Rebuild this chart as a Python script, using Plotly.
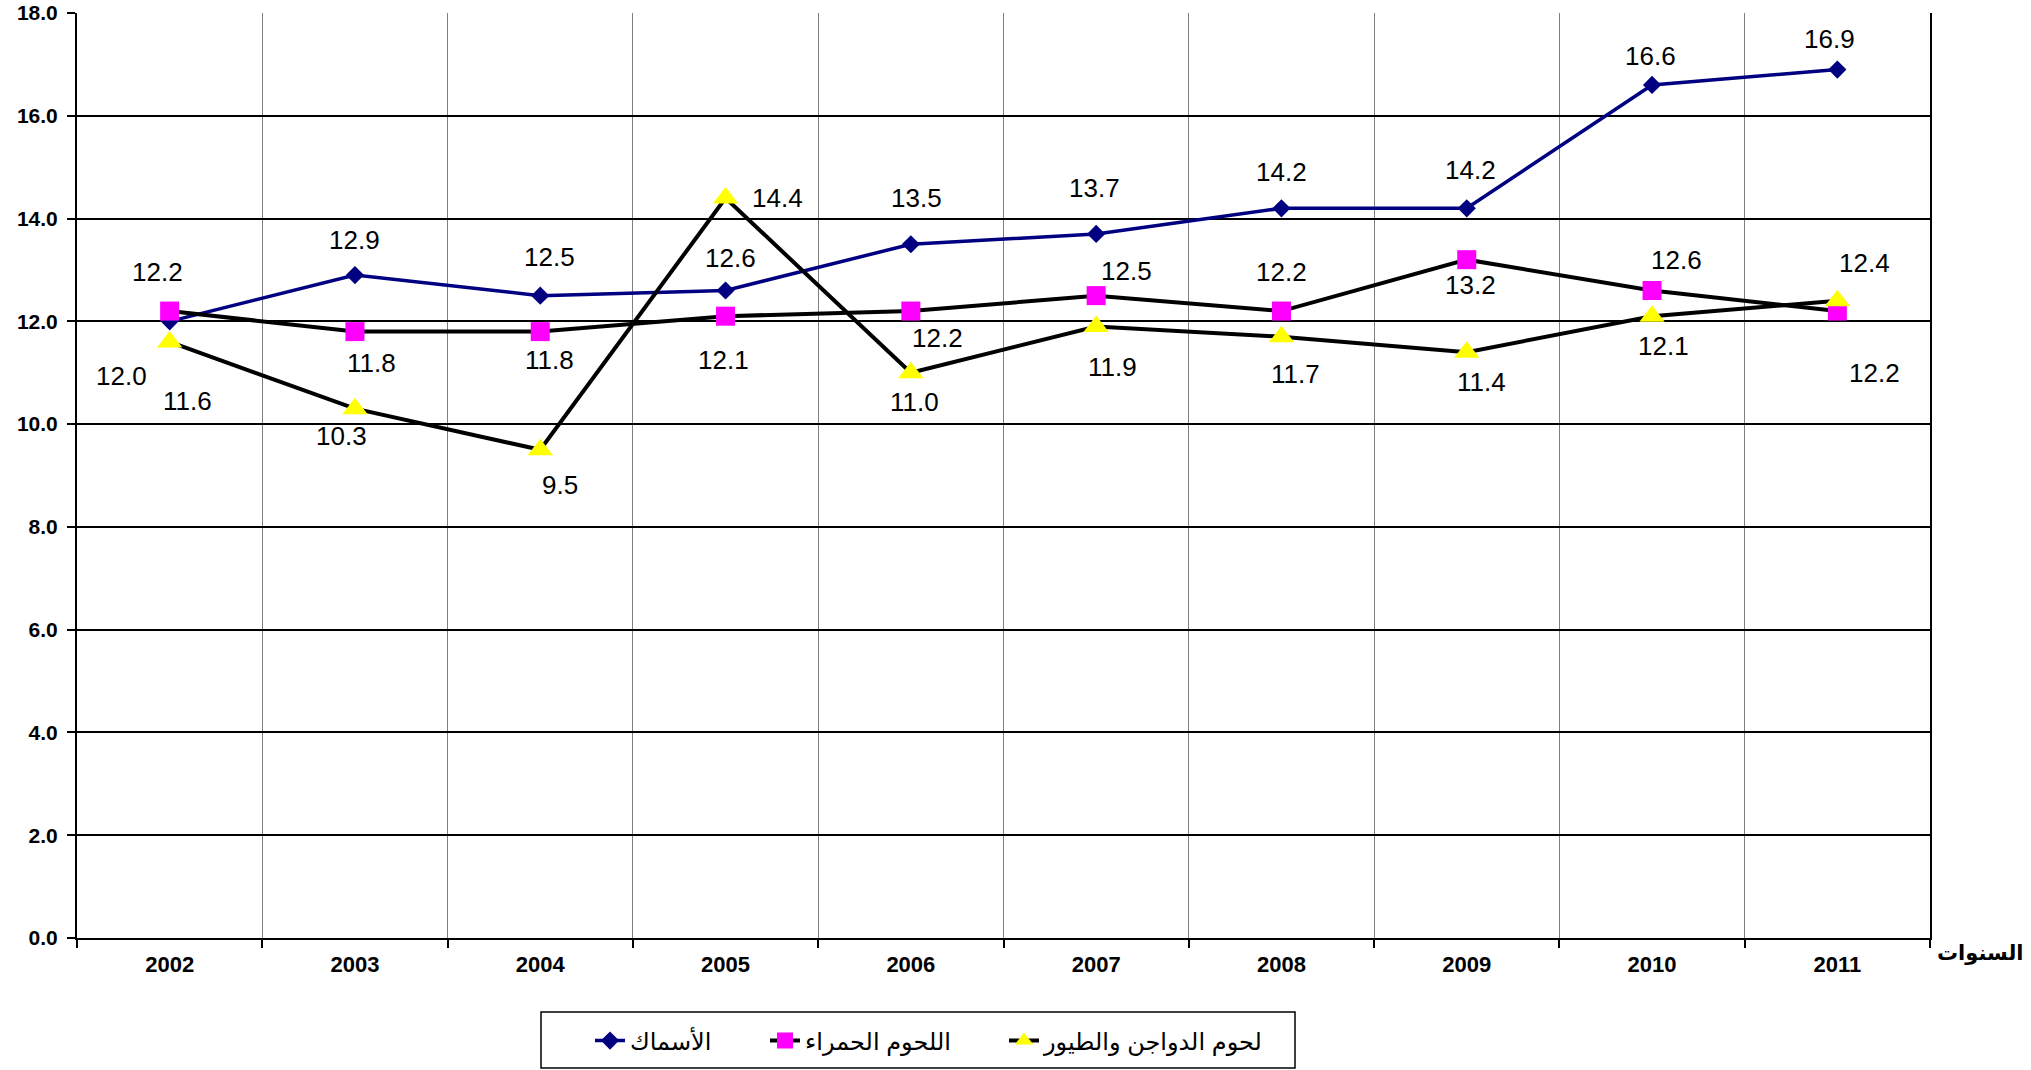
import plotly.graph_objects as go

# ---- data ----
years = ["2002", "2003", "2004", "2005", "2006", "2007", "2008", "2009", "2010", "2011"]
fish = [12.0, 12.9, 12.5, 12.6, 13.5, 13.7, 14.2, 14.2, 16.6, 16.9]
red_meat = [12.2, 11.8, 11.8, 12.1, 12.2, 12.5, 12.2, 13.2, 12.6, 12.2]
poultry = [11.6, 10.3, 9.5, 14.4, 11.0, 11.9, 11.7, 11.4, 12.1, 12.4]
names = ["الأسماك", "اللحوم الحمراء", "لحوم الدواجن والطيور"]
x_title = "السنوات"

# ---- label offsets (pixels: dx right, dy down) ----
fish_off = [(-48, 55), (0, -35), (9, -39), (5, -33), (6, -46), (-2, -46), (0, -36), (4, -38), (-2, -29), (-8, -31)]
red_off = [(-12, -39), (17, 31), (9, 28), (-2, 44), (27, 27), (30, -25), (0, -39), (4, 25), (24, -31), (37, 62)]
poul_off = [(18, 59), (-13, 27), (20, 35), (52, 0), (4, 29), (16, 41), (14, 37), (15, 30), (11, 30), (27, -38)]

FONT = "Liberation Sans, Arial, DejaVu Sans, sans-serif"
W, H = 2031, 1070
# plot area in page pixels: x 77..1930, y 13..938
ML = 77
MT = 13
MR = W - 1930
MB = H - 938
xs = list(range(len(years)))

fig = go.Figure()
fig.add_trace(go.Scatter(
    x=xs, y=fish, name=names[0], mode="lines+markers", legend="legend",
    line=dict(color="#000080", width=3.5),
    marker=dict(symbol="diamond", size=14, color="#000080"),
))
fig.add_trace(go.Scatter(
    x=xs, y=red_meat, name=names[1], mode="lines+markers", legend="legend2",
    line=dict(color="black", width=4),
    marker=dict(symbol="square", size=19, color="#FF00FF"),
))
fig.add_trace(go.Scatter(
    x=xs, y=poultry, name=names[2], mode="lines+markers", legend="legend3",
    line=dict(color="black", width=4),
    marker=dict(symbol="triangle-up", size=22, color="#FFFF00"),
))

annotations = []
for series, offs in ((fish, fish_off), (red_meat, red_off), (poultry, poul_off)):
    for xi, v, (dx, dy) in zip(xs, series, offs):
        annotations.append(dict(
            x=xi, y=v, text=f"{v:.1f}", showarrow=False,
            xshift=dx, yshift=-dy,
            font=dict(family=FONT, size=26, color="black"),
        ))

pw = W - ML - MR
ph = H - MT - MB


def px_x(p):  # page pixel -> paper x
    return (p - ML) / pw


def px_y(p):  # page pixel -> paper y
    return (H - MB - p) / ph


annotations.append(dict(
    xref="paper", yref="paper", x=px_x(1980), y=px_y(953), text=f"<b>{x_title}</b>",
    showarrow=False, xanchor="center", yanchor="middle",
    font=dict(family=FONT, size=21, color="black"),
))

legend_font = dict(family=FONT, size=24, color="black")
leg_y = (H - 1041) / H


def leg(xpix):
    return dict(orientation="h", xref="container", yref="container",
                x=xpix / W, xanchor="left", y=leg_y, yanchor="middle",
                bgcolor="rgba(0,0,0,0)", borderwidth=0, font=legend_font)


fig.update_layout(
    width=W, height=H,
    margin=dict(l=ML, r=MR, t=MT, b=MB, autoexpand=False),
    plot_bgcolor="white", paper_bgcolor="white",
    font=dict(family=FONT, color="black"),
    annotations=annotations,
    showlegend=True,
    legend=leg(590), legend2=leg(765), legend3=leg(1004),
    shapes=[dict(type="rect", xref="paper", yref="paper",
                 x0=px_x(541), x1=px_x(1295), y0=px_y(1012), y1=px_y(1068),
                 line=dict(color="black", width=1.5), fillcolor="rgba(0,0,0,0)")],
    xaxis=dict(
        range=[-0.5, 9.5], automargin=False,
        tickmode="array", tickvals=xs, ticktext=[f"<b>{y}</b>" for y in years],
        tickfont=dict(family=FONT, size=22, color="black"),
        ticklabelstandoff=6, ticklabeloverflow="allow",
        showgrid=False, zeroline=False,
        showline=True, linecolor="black", linewidth=2,
        ticks="",
        minor=dict(tickmode="array", tickvals=[i - 0.5 for i in range(len(years) + 1)],
                   showgrid=True, gridcolor="#808080", gridwidth=1,
                   ticks="outside", ticklen=8, tickwidth=2, tickcolor="black"),
    ),
    yaxis=dict(
        range=[0, 18], dtick=2, tick0=0, tickformat=".1f", automargin=False,
        tickfont=dict(family=FONT, size=21, color="black"),
        tickprefix="<b>", ticksuffix="</b>",
        ticklabelstandoff=5, ticklabeloverflow="allow",
        showgrid=True, gridcolor="black", gridwidth=1.5,
        zeroline=False,
        showline=True, linecolor="black", linewidth=2, mirror=True,
        ticks="outside", ticklen=8, tickwidth=2, tickcolor="black",
    ),
)

fig.write_html("out.html",
               config={"displayModeBar": False},
               post_script="document.body.style.margin='0px';document.body.style.overflow='hidden';")
